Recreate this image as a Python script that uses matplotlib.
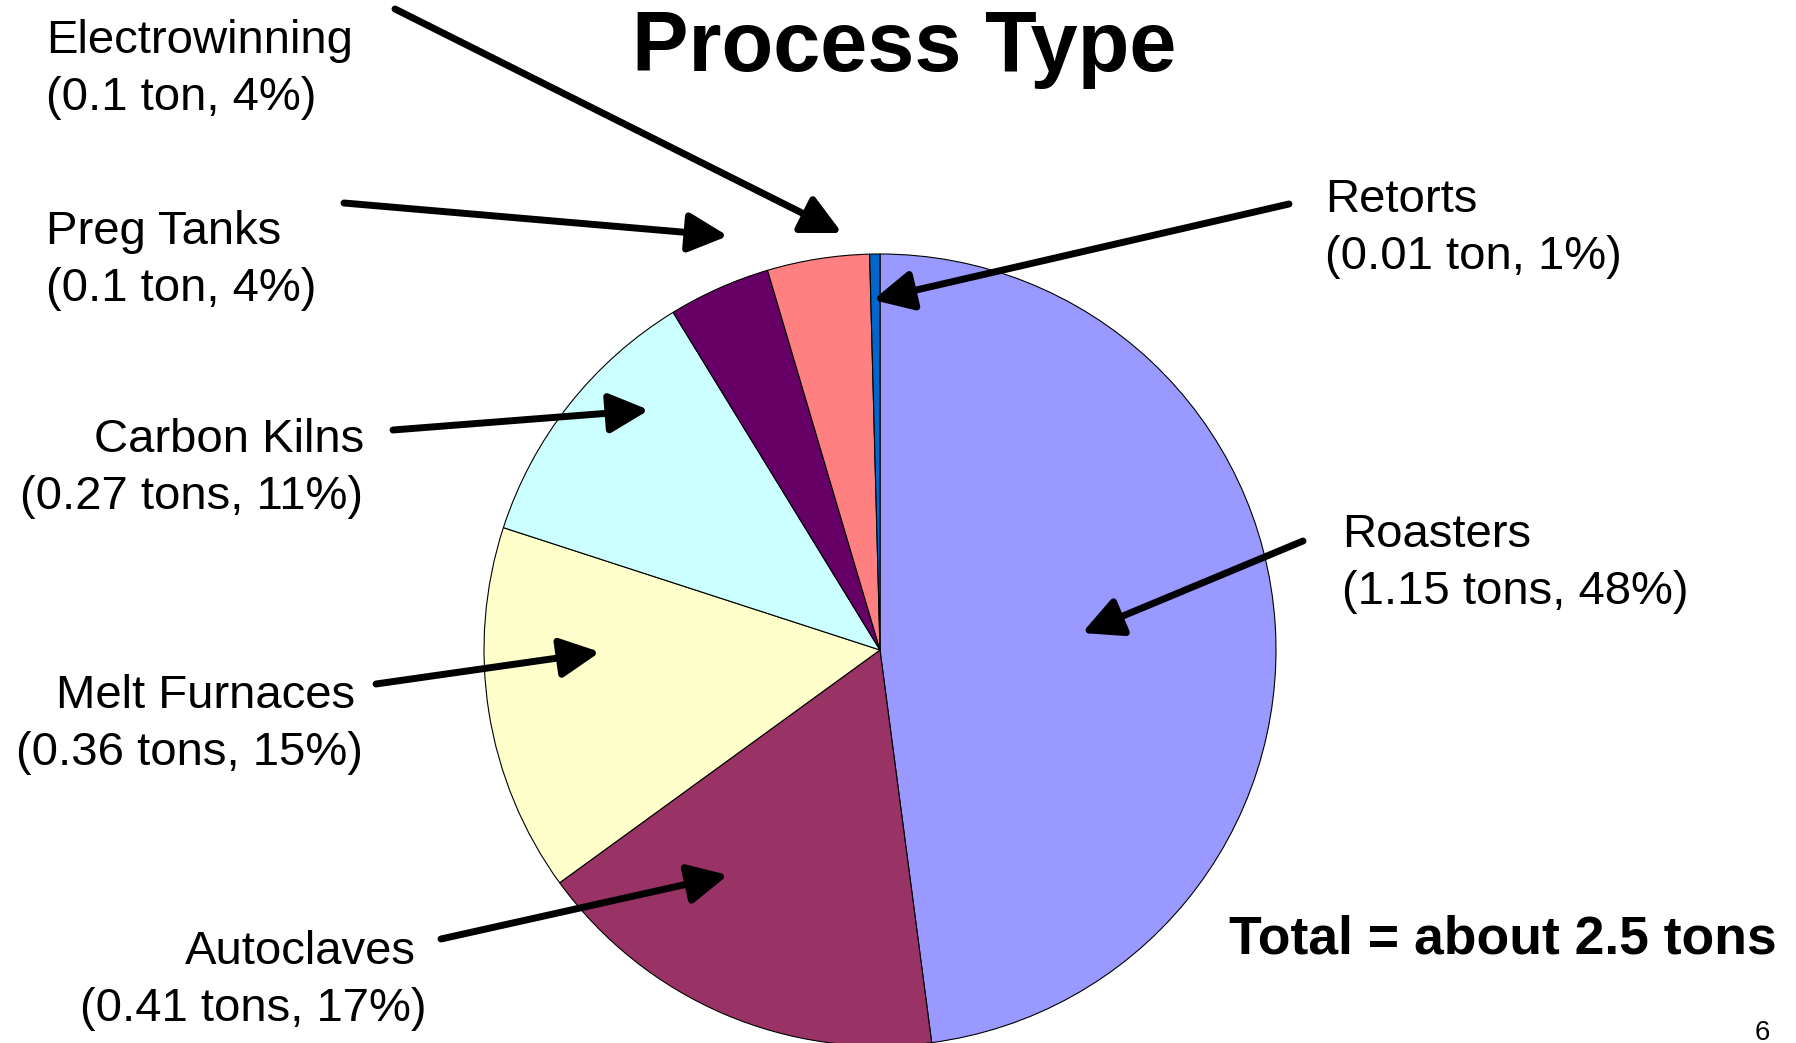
import matplotlib
matplotlib.use("Agg")
import matplotlib.pyplot as plt

W, H = 1796, 1043

names = ["Roasters", "Autoclaves", "Melt Furnaces", "Carbon Kilns",
         "Preg Tanks", "Electrowinning", "Retorts"]
tons = [1.15, 0.41, 0.36, 0.27, 0.1, 0.1, 0.01]
percents = [48, 17, 15, 11, 4, 4, 1]
colors = ["#9999FF", "#993366", "#FFFFCC", "#CCFFFF", "#660066", "#FF8080", "#0066CC"]
title = "Process Type"
total_text = "Total = about 2.5 tons"
page_no = "6"

# layout in image pixels (y down): name line x, first baseline, align, second-line x
label_pos = {
    "Roasters": (1342, 547, "left", 1342),
    "Autoclaves": (416, 964, "right", 426),
    "Melt Furnaces": (355, 708, "right", 363),
    "Carbon Kilns": (364, 452, "right", 363),
    "Preg Tanks": (46, 244, "left", 46),
    "Electrowinning": (46, 53, "left", 46),
    "Retorts": (1325, 212, "left", 1325),
}
# arrow tail -> tip, image pixels
arrow_pos = {
    "Roasters": ((1303, 541), (1082, 633)),
    "Autoclaves": ((441, 939), (728, 875)),
    "Melt Furnaces": ((376, 684), (600, 652)),
    "Carbon Kilns": ((393, 430), (649, 410)),
    "Preg Tanks": ((344, 203), (728, 236)),
    "Electrowinning": ((395, 9), (842, 233)),
    "Retorts": ((1289, 204), (873, 300)),
}
LINE_STEP = 57


def px(x, y):
    return x, H - y


def ton_text(value, pct):
    unit = "ton" if value <= 0.1 else "tons"
    return f"({value:g} {unit}, {pct}%)"


plt.rcParams["font.family"] = ["Liberation Sans", "DejaVu Sans"]
fig = plt.figure(figsize=(W / 100, H / 100), dpi=100)
ax = fig.add_axes([0, 0, 1, 1])

ax.pie(
    tons,
    colors=colors,
    startangle=90,
    counterclock=False,
    center=px(880, 650),
    radius=396,
    wedgeprops=dict(edgecolor="black", linewidth=0.8),
    frame=False,
)
ax.set_xlim(0, W)
ax.set_ylim(0, H)
ax.set_aspect("auto")
ax.axis("off")

for name, value, pct in zip(names, tons, percents):
    x, y, ha, x2 = label_pos[name]
    ax.text(*px(x, y), name, fontsize=34, ha=ha, va="baseline")
    ax.text(*px(x2, y + LINE_STEP), ton_text(value, pct), fontsize=34, ha=ha, va="baseline")
    tail, tip = arrow_pos[name]
    ax.annotate(
        "",
        xy=px(*tip),
        xytext=px(*tail),
        arrowprops=dict(
            arrowstyle="-|>,head_length=1.2,head_width=0.6",
            lw=5,
            color="black",
            mutation_scale=20,
            shrinkA=0,
            shrinkB=0,
        ),
    )

ax.text(*px(904, 71), title, fontsize=61, fontweight="bold", ha="center", va="baseline")
ax.text(*px(1229, 954), total_text, fontsize=38.5, fontweight="bold", ha="left", va="baseline")
ax.text(*px(1762, 1040), page_no, fontsize=20, ha="center", va="baseline")

fig.savefig("out.png", dpi=100)
